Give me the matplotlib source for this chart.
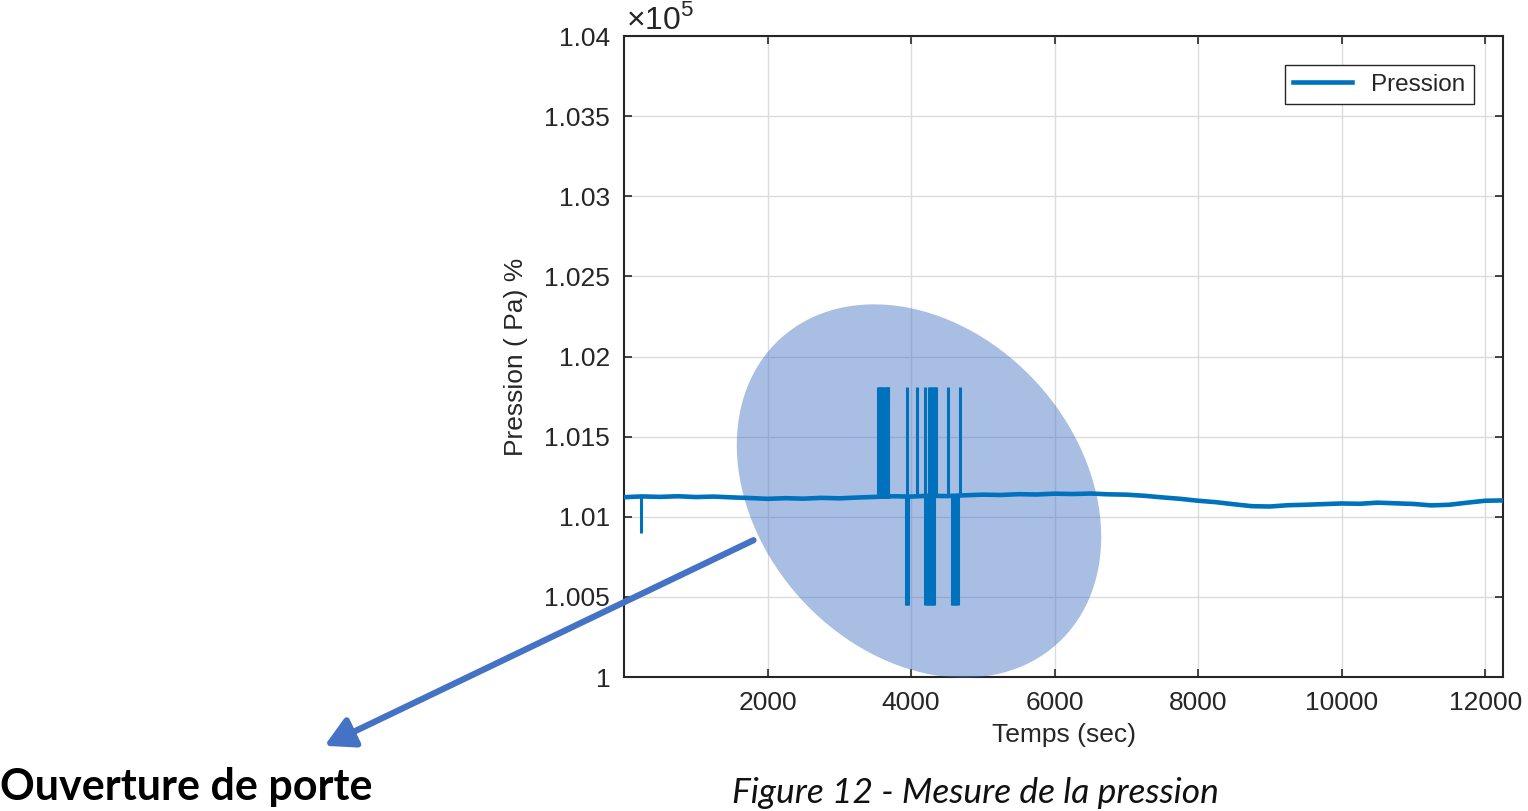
import matplotlib
matplotlib.use("Agg")
import matplotlib.pyplot as plt
from matplotlib.patches import Ellipse, FancyArrowPatch
from matplotlib.ticker import FuncFormatter

# ── Data (pressure in Pa, time in s) ─────────────────
t_base = [0, 250, 500, 750, 1000, 1250, 1500, 1750, 2000, 2250, 2500, 2750,
          3000, 3250, 3500, 3750, 4000, 4250, 4500, 4750, 5000, 5250, 5500,
          5750, 6000, 6250, 6500, 6750, 7000, 7250, 7500, 7750, 8000, 8250,
          8500, 8750, 9000, 9250, 9500, 9750, 10000, 10250, 10500, 10750,
          11000, 11250, 11500, 11750, 12000, 12250]
p_base = [101122, 101127, 101124, 101128, 101123, 101126, 101121, 101117,
          101112, 101116, 101113, 101118, 101115, 101120, 101124, 101128,
          101126, 101131, 101129, 101134, 101138, 101136, 101141, 101139,
          101144, 101142, 101145, 101140, 101138, 101131, 101121, 101112,
          101100, 101091, 101078, 101066, 101064, 101072, 101075, 101079,
          101083, 101081, 101088, 101084, 101080, 101071, 101075, 101088,
          101100, 101102]

# spikes: time, lower end, upper end
spike_t = [237,
           3540, 3555, 3570, 3585, 3600, 3615, 3630, 3645, 3660, 3675, 3684,
           3942, 3925, 3955, 4080, 4193,
           4200, 4220, 4240, 4260, 4280, 4300, 4315,
           4250, 4270, 4290, 4310, 4330, 4350,
           4515, 4570, 4590, 4610, 4630, 4650, 4687]
spike_lo = [100900,
            101120, 101120, 101120, 101120, 101120, 101120, 101120, 101120,
            101120, 101120, 101120,
            100450, 100450, 100450, 101125, 101125,
            100450, 100450, 100450, 100450, 100450, 100450, 100450,
            101128, 101128, 101128, 101128, 101128, 101128,
            101128, 100450, 100450, 100450, 100450, 100450, 101130]
spike_hi = [101125,
            101812, 101812, 101812, 101812, 101812, 101812, 101812, 101812,
            101812, 101812, 101812,
            101812, 101125, 101125, 101812, 101812,
            101128, 101128, 101128, 101128, 101128, 101128, 101128,
            101812, 101812, 101812, 101812, 101812, 101812,
            101812, 101130, 101130, 101130, 101130, 101130, 101812]

x_ticks = [2000, 4000, 6000, 8000, 10000, 12000]
y_ticks = [100000, 100500, 101000, 101500, 102000, 102500, 103000, 103500, 104000]

LINE_COLOR = "#0072BD"
NOTE_COLOR = "#4472C4"

plt.rcParams["font.family"] = ["Liberation Sans", "DejaVu Sans"]
plt.rcParams["mathtext.fontset"] = "custom"
plt.rcParams["mathtext.rm"] = "Liberation Sans"

fig = plt.figure(figsize=(15.28, 8.11), dpi=100)
ax = fig.add_axes([0.4084, 0.1652, 0.5753, 0.7904])

ax.plot(t_base, p_base, color=LINE_COLOR, lw=3.3, label="Pression", zorder=4)
ax.vlines(spike_t, spike_lo, spike_hi, color=LINE_COLOR, lw=2.2, zorder=4)

ax.set_xlim(0, 12250)
ax.set_ylim(100000, 104000)
ax.set_xticks(x_ticks)
ax.set_yticks(y_ticks)
ax.yaxis.set_major_formatter(FuncFormatter(lambda v, pos: f"{v / 1e5:g}"))
ax.tick_params(direction="in", length=6, width=1.2, top=True, right=True,
               labelsize=19, colors="#262626", pad=10)
ax.grid(True, color="#DCDCDC", lw=1.0)
ax.set_axisbelow(True)
for s in ax.spines.values():
    s.set_color("#262626")
    s.set_linewidth(1.5)

ax.set_xlabel("Temps (sec)", fontsize=19, color="#262626", labelpad=6)
ax.set_ylabel("Pression ( Pa) %", fontsize=19, color="#262626", labelpad=12)
ax.text(0.002, 1.0, r"$\times10^{5}$", transform=ax.transAxes,
        fontsize=23, color="#262626", ha="left", va="bottom")

leg = ax.legend(loc="upper right", fontsize=17.5, handlelength=2.4,
                fancybox=False, framealpha=1, edgecolor="#262626",
                borderaxespad=1.2, borderpad=0.35)
leg.get_frame().set_linewidth(1.0)
leg.get_texts()[0].set_color("#262626")

# highlight around the door openings
ell = Ellipse((9.19, 3.20), width=4.12, height=3.20, angle=-47.8,
              transform=fig.dpi_scale_trans, facecolor=NOTE_COLOR,
              alpha=0.46, edgecolor="none", zorder=3, clip_on=False)
ax.add_patch(ell)

arrow = FancyArrowPatch((756, 272), (322, 64), transform=None,
                        arrowstyle="-|>,head_length=1.1,head_width=0.6",
                        mutation_scale=16, color=NOTE_COLOR, lw=4.5)
fig.patches.append(arrow)

fig.text(0.0, 0.03, "Ouverture de porte", fontsize=31, fontweight="bold",
         family=["Lato", "DejaVu Sans"], ha="left", va="center")
fig.text(0.479, 0.003, "Figure 12 - Mesure de la pression", fontsize=25.5,
         style="italic", family=["Lato", "DejaVu Sans"], ha="left",
         va="bottom", color="#111111")

fig.savefig("out.png", dpi=100)
